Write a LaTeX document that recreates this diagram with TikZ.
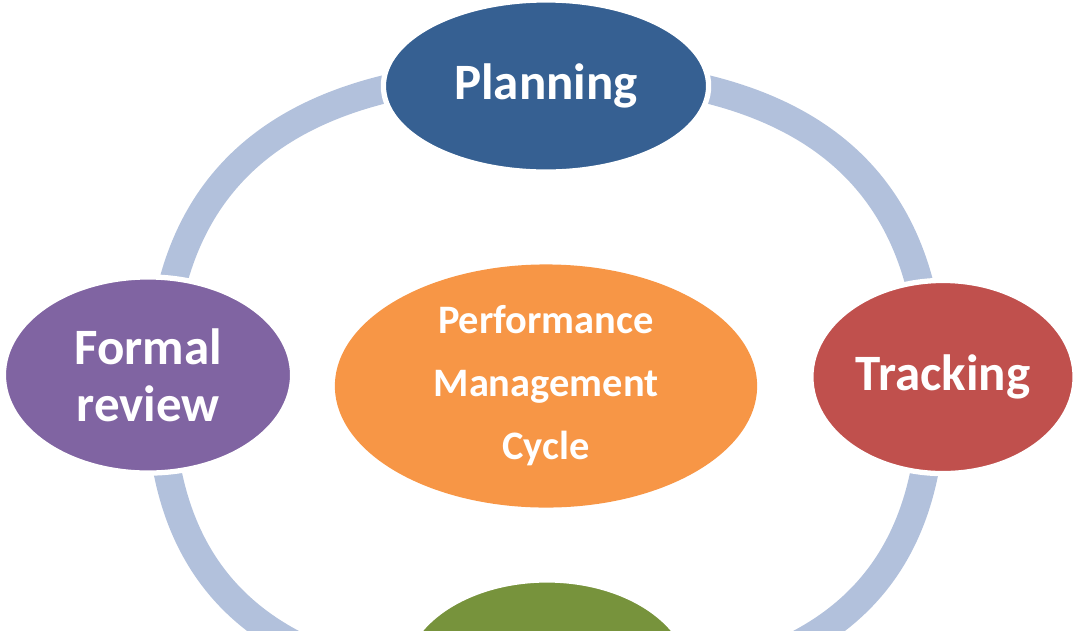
\documentclass[tikz,border=0pt]{standalone}
\usepackage{fontspec}
\setmainfont{Carlito}
\usetikzlibrary{shapes.geometric}
\definecolor{ringblue}{RGB}{178,193,220}
\definecolor{planblue}{RGB}{54,96,146}
\definecolor{trackred}{RGB}{192,80,77}
\definecolor{reviewpurple}{RGB}{128,100,162}
\definecolor{cyclegreen}{RGB}{119,147,60}
\definecolor{coreorange}{RGB}{247,150,70}
\begin{document}
\begin{tikzpicture}[x=0.01cm, y=-0.01cm, line join=round,
	ring/.style={draw=ringblue, line width=2.8mm},
	phase/.style={ellipse, fill=#1, draw=white, line width=1.5pt, inner sep=0pt, text=white, align=center,
		font=\fontsize{14.5}{16.3}\selectfont\bfseries}]
	\useasboundingbox (0,0) rectangle (1079,630);
	% ring of the cycle
	\coordinate (rT) at (546,72);
	\coordinate (rL) at (160,390);
	\coordinate (rB) at (546,692);
	\coordinate (rR) at (932,390);
	\draw[ring] (rT) .. controls (286,72) and (160,175) .. (rL);
	\draw[ring] (rL) .. controls (160,600) and (286,692) .. (rB);
	\draw[ring] (rB) .. controls (806,692) and (932,600) .. (rR);
	\draw[ring] (rR) .. controls (932,175) and (806,72) .. (rT);
	% phases
	\node[phase=planblue, minimum width=3.25cm, minimum height=1.72cm] (plan) at (546,86) {Planning};
	\node[phase=trackred, minimum width=2.64cm, minimum height=1.93cm] (track) at (943,377) {Tracking};
	\node[phase=cyclegreen, minimum width=2.9cm, minimum height=1.96cm] (coach) at (547,678) {};
	\node[phase=reviewpurple, minimum width=2.89cm, minimum height=1.96cm] (review) at (148,375) {Formal\\review};
	\node[phase=coreorange, draw=none, minimum width=4.22cm, minimum height=2.43cm,
		font=\fontsize{11.5}{17.9}\selectfont\bfseries] (core) at (546,386) {Performance\\Management\\Cycle};
\end{tikzpicture}
\end{document}
